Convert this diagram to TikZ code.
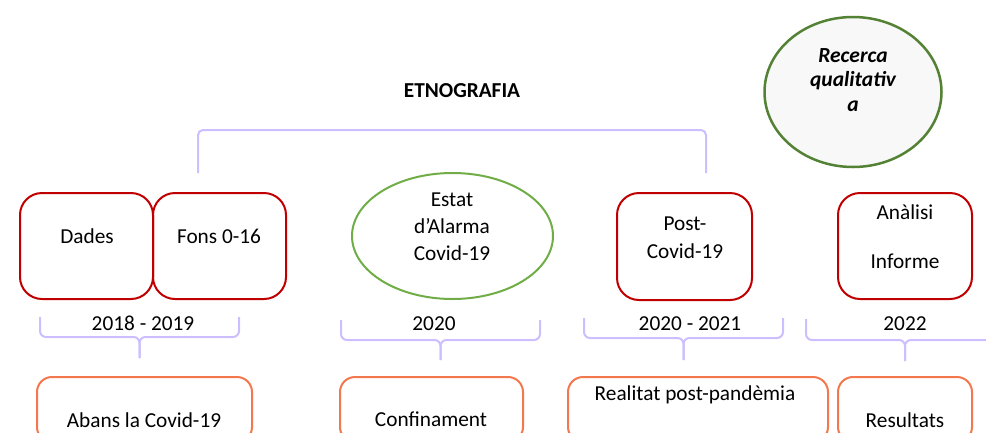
\documentclass[tikz,border=0pt]{standalone}
\usepackage{fontspec}
\setmainfont{Carlito}
\usetikzlibrary{shapes.geometric}
\definecolor{boxred}{RGB}{192,0,0}
\definecolor{boxorange}{RGB}{243,120,78}
\definecolor{ellgreen}{RGB}{112,173,71}
\definecolor{darkgreen}{RGB}{84,130,53}
\definecolor{bracecol}{RGB}{204,190,255}
\definecolor{ellfill}{RGB}{248,248,248}
\tikzset{
  redbox/.style={draw=boxred, line width=2pt, rounded corners=22pt, inner sep=0pt},
  orangebox/.style={draw=boxorange, line width=2pt, rounded corners=15pt, inner sep=0pt, minimum height=65pt},
  greenell/.style={ellipse, draw=ellgreen, line width=2pt, inner sep=0pt},
  recell/.style={ellipse, draw=darkgreen, fill=ellfill, line width=2.5pt, inner sep=0pt},
  txt/.style={font=\fontsize{21.3}{24}\selectfont, inner sep=0pt, align=center},
  bracestyle/.style={draw=bracecol, line width=2pt, rounded corners=6pt},
}
\begin{document}
\begin{tikzpicture}[x=1pt,y=-1pt]
\useasboundingbox (0,0) rectangle (986,432);
\clip (0,0) rectangle (986,432);

% Recerca qualitativa
\node[recell, minimum width=177pt, minimum height=150pt] (rec) at (853,92) {};
\node[txt, font=\fontsize{21.5}{24.5}\selectfont\bfseries\itshape] (rect) at (853,80) {Recerca\\qualitativ\\a};

% title and top bracket
\node[txt, font=\fontsize{21.3}{24}\selectfont\bfseries] (etno) at (462,91) {ETNOGRAFIA};
\coordinate (tl) at (198,173);
\coordinate (tlc) at (198,130);
\coordinate (trc) at (706,130);
\coordinate (tr) at (706,173);
\draw[bracestyle, rounded corners=5pt] (tl) -- (tlc) -- (trc) -- (tr);

% red boxes
\node[redbox, minimum width=133pt, minimum height=106pt] (dades) at (86.5,246) {};
\node[redbox, minimum width=133pt, minimum height=106pt] (fons) at (219.5,246) {};
\node[redbox, minimum width=135pt, minimum height=107pt] (post) at (684.5,246.5) {};
\node[redbox, minimum width=134pt, minimum height=106pt] (anal) at (905,246) {};
\node[txt] (dadest) at (87,236) {Dades};
\node[txt] (fonst) at (219,236) {Fons 0-16};
\node[txt, font=\fontsize{21.3}{28}\selectfont] (postt) at (685,238) {Post-\\Covid-19};
\node[txt, font=\fontsize{21.3}{24.5}\selectfont] (analt) at (905,237) {Anàlisi\\\mbox{}\\Informe};

% green ellipse
\node[greenell, minimum width=201pt, minimum height=126pt] (estat) at (452.5,236) {};
\node[txt, font=\fontsize{21.3}{27}\selectfont] (estatt) at (452,227) {Estat\\d’Alarma\\Covid-19};

% year labels
\node[txt] (y1) at (143,323) {2018 - 2019};
\node[txt] (y2) at (434,324) {2020};
\node[txt] (y3) at (690,324) {2020 - 2021};
\node[txt] (y4) at (905,324) {2022};

% braces
\coordinate (b1l) at (40,317);  \coordinate (b1r) at (239,317);  \coordinate (b1m) at (139.5,337); \coordinate (b1t) at (139.5,358);
\coordinate (b2l) at (341,320); \coordinate (b2r) at (540,320);  \coordinate (b2m) at (440.5,340); \coordinate (b2t) at (440.5,360);
\coordinate (b3l) at (584,318); \coordinate (b3r) at (783,318);  \coordinate (b3m) at (683.5,338); \coordinate (b3t) at (683.5,360);
\coordinate (b4l) at (806,319); \coordinate (b4r) at (1004,319); \coordinate (b4m) at (905,340);   \coordinate (b4t) at (905,361);
\foreach \b in {b1,b2,b3,b4}{
  \draw[bracestyle] (\b l) |- (\b m) -- (\b t);
  \draw[bracestyle] (\b r) |- (\b m) -- (\b t);
}

% orange boxes
\node[orangebox, minimum width=215pt] (abans) at (144.5,409.5) {};
\node[orangebox, minimum width=183pt] (conf) at (431.5,409.5) {};
\node[orangebox, minimum width=260pt] (real) at (698,409.5) {};
\node[orangebox, minimum width=134pt] (resu) at (905,409.5) {};
\node[txt] (abanst) at (144,420) {Abans la Covid-19};
\node[txt] (conft) at (431,419) {Confinament};
\node[txt] (realt) at (695,395) {Realitat post-pandèmia};
\node[txt] (resut) at (905,420) {Resultats};
\end{tikzpicture}
\end{document}
